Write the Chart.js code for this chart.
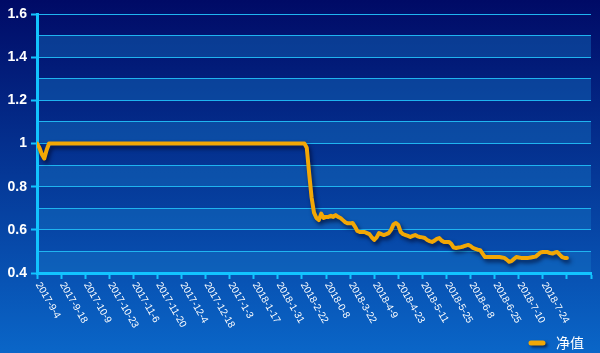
<!DOCTYPE html>
<html>
<head>
<meta charset="utf-8">
<script src="https://cdn.jsdelivr.net/npm/chart.js@4.4.1/dist/chart.umd.min.js"></script>
<style>
  html, body { margin: 0; padding: 0; background: #0a3a9a; }
  #wrap { width: 600px; height: 353px; }
</style>
</head>
<body>
<div id="wrap"><canvas id="grafico" width="600" height="353"></canvas></div>
<script>
// Etiquetas del eje X (una cada 10 sesiones)
const fechas = ['2017-9-4', '2017-9-18', '2017-10-9', '2017-10-23', '2017-11-6', '2017-11-20',
  '2017-12-4', '2017-12-18', '2017-1-3', '2018-1-17', '2018-1-31', '2018-2-22', '2018-0-8',
  '2018-3-22', '2018-4-9', '2018-4-23', '2018-5-11', '2018-5-25', '2018-6-8', '2018-6-25',
  '2018-7-10', '2018-7-24'];

// Valor neto diario (净值)
const netos = [
  1.00, 0.98, 0.95, 0.93, 0.97, 1.00, 1.00, 1.00, 1.00, 1.00,
  1.00, 1.00, 1.00, 1.00, 1.00, 1.00, 1.00, 1.00, 1.00, 1.00,
  1.00, 1.00, 1.00, 1.00, 1.00, 1.00, 1.00, 1.00, 1.00, 1.00,
  1.00, 1.00, 1.00, 1.00, 1.00, 1.00, 1.00, 1.00, 1.00, 1.00,
  1.00, 1.00, 1.00, 1.00, 1.00, 1.00, 1.00, 1.00, 1.00, 1.00,
  1.00, 1.00, 1.00, 1.00, 1.00, 1.00, 1.00, 1.00, 1.00, 1.00,
  1.00, 1.00, 1.00, 1.00, 1.00, 1.00, 1.00, 1.00, 1.00, 1.00,
  1.00, 1.00, 1.00, 1.00, 1.00, 1.00, 1.00, 1.00, 1.00, 1.00,
  1.00, 1.00, 1.00, 1.00, 1.00, 1.00, 1.00, 1.00, 1.00, 1.00,
  1.00, 1.00, 1.00, 1.00, 1.00, 1.00, 1.00, 1.00, 1.00, 1.00,
  1.00, 1.00, 1.00, 1.00, 1.00, 1.00, 1.00, 1.00, 1.00, 1.00,
  1.00, 1.00, 0.98, 0.86, 0.75, 0.68, 0.655, 0.645, 0.675, 0.655,
  0.66, 0.66, 0.665, 0.66, 0.668, 0.66, 0.655, 0.645, 0.635, 0.63,
  0.63, 0.632, 0.615, 0.595, 0.59, 0.59, 0.59, 0.585, 0.58, 0.565,
  0.553, 0.565, 0.585, 0.58, 0.576, 0.58, 0.585, 0.60, 0.625, 0.632,
  0.622, 0.59, 0.58, 0.576, 0.572, 0.567, 0.572, 0.576, 0.57, 0.567,
  0.565, 0.562, 0.553, 0.548, 0.544, 0.55, 0.558, 0.562, 0.55, 0.544,
  0.544, 0.544, 0.535, 0.518, 0.516, 0.518, 0.52, 0.523, 0.527, 0.53,
  0.525, 0.516, 0.512, 0.508, 0.506, 0.49, 0.474, 0.474, 0.474, 0.474,
  0.474, 0.474, 0.474, 0.472, 0.47, 0.462, 0.452, 0.455, 0.465, 0.474,
  0.472, 0.47, 0.47, 0.47, 0.47, 0.472, 0.474, 0.476, 0.485, 0.495,
  0.497, 0.497, 0.497, 0.492, 0.49, 0.495, 0.497, 0.485, 0.474, 0.47,
  0.47
];

const CIAN = '#12c4ff';
const NARANJA = '#f2a705';

// Fondo degradado + franjas alternas entre líneas de la rejilla
const fondoPlugin = {
  id: 'fondo',
  beforeDraw(chart) {
    const { ctx, chartArea: a, scales: { y } } = chart;
    ctx.save();
    const g = ctx.createLinearGradient(0, 0, 0, chart.height);
    g.addColorStop(0, '#000a66');
    g.addColorStop(1, '#0a66c8');
    ctx.fillStyle = g;
    ctx.fillRect(0, 0, chart.width, chart.height);
    ctx.fillStyle = 'rgba(23,121,200,0.4)';
    for (let v = 4; v < 16; v += 2) {
      const top = y.getPixelForValue((v + 1) / 10);
      const bot = y.getPixelForValue(v / 10);
      ctx.fillRect(a.left, top, a.right - a.left, bot - top);
    }
    ctx.restore();
  }
};

// Sombra bajo la línea
const sombraPlugin = {
  id: 'sombra',
  beforeDatasetDraw(chart) {
    const ctx = chart.ctx;
    ctx.save();
    ctx.shadowColor = 'rgba(0,0,30,0.65)';
    ctx.shadowBlur = 4;
    ctx.shadowOffsetX = 2;
    ctx.shadowOffsetY = 3;
  },
  afterDatasetDraw(chart) {
    chart.ctx.restore();
  }
};

// Etiquetas del eje X giradas hacia abajo-derecha + leyenda abajo a la derecha
const textosPlugin = {
  id: 'textos',
  afterDraw(chart) {
    const { ctx, scales: { x } } = chart;
    ctx.save();
    ctx.fillStyle = '#ffffff';
    ctx.font = '10px "Liberation Sans", Arial, sans-serif';
    ctx.textAlign = 'left';
    ctx.textBaseline = 'middle';
    x.ticks.forEach((t, i) => {
      const txt = fechas[i];
      if (!txt) return;
      const px = x.getPixelForValue(t.value);
      ctx.save();
      ctx.translate(px + 1, x.top + 10);
      ctx.rotate(Math.PI / 3);
      ctx.fillText(txt, 0, 0);
      ctx.restore();
    });

    // Leyenda
    const ds = chart.data.datasets[0];
    ctx.save();
    ctx.shadowColor = 'rgba(0,0,30,0.6)';
    ctx.shadowBlur = 3;
    ctx.shadowOffsetX = 2;
    ctx.shadowOffsetY = 2;
    ctx.strokeStyle = ds.borderColor;
    ctx.lineWidth = 5;
    ctx.lineCap = 'round';
    ctx.beginPath();
    ctx.moveTo(531, 343);
    ctx.lineTo(543, 343);
    ctx.stroke();
    ctx.restore();
    ctx.font = '14px "Noto Sans CJK SC", sans-serif';
    ctx.fillText(ds.label, 556, 343);
    ctx.restore();
  }
};

new Chart(document.getElementById('grafico'), {
  type: 'line',
  data: {
    datasets: [{
      label: '净值',
      data: netos.map((v, i) => ({ x: i, y: v })),
      borderColor: NARANJA,
      backgroundColor: NARANJA,
      borderWidth: 4,
      pointRadius: 0,
      tension: 0,
      borderJoinStyle: 'round',
      borderCapStyle: 'round'
    }]
  },
  options: {
    responsive: false,
    animation: false,
    layout: { padding: { top: 14, right: 9, left: 0, bottom: 0 } },
    plugins: {
      tooltip: { enabled: false },
      legend: { display: false }
    },
    scales: {
      x: {
        type: 'linear',
        min: 0,
        max: 230,
        ticks: { stepSize: 10, display: false },
        grid: { drawOnChartArea: false, drawTicks: true, tickLength: 6, tickColor: CIAN, tickWidth: 2 },
        border: { color: CIAN, width: 3 },
        afterFit(scale) { scale.height = 80; }
      },
      y: {
        min: 0.4,
        max: 1.6,
        ticks: {
          stepSize: 0.1,
          color: '#ffffff',
          padding: 4,
          font: { size: 14, weight: 'bold', family: '"Liberation Sans", Arial, sans-serif' },
          callback: v => (Math.round(v * 10) % 2 === 0 ? String(Math.round(v * 10) / 10) : '')
        },
        grid: {
          color: '#1fb4f0',
          lineWidth: 1,
          tickLength: 6,
          tickWidth: 2,
          tickColor: c => (c.tick && Math.round(c.tick.value * 10) % 2 === 0 ? CIAN : 'transparent')
        },
        border: { color: CIAN, width: 3 },
        afterFit(scale) { scale.width = 37; }
      }
    }
  },
  plugins: [fondoPlugin, sombraPlugin, textosPlugin]
});
</script>
</body>
</html>
